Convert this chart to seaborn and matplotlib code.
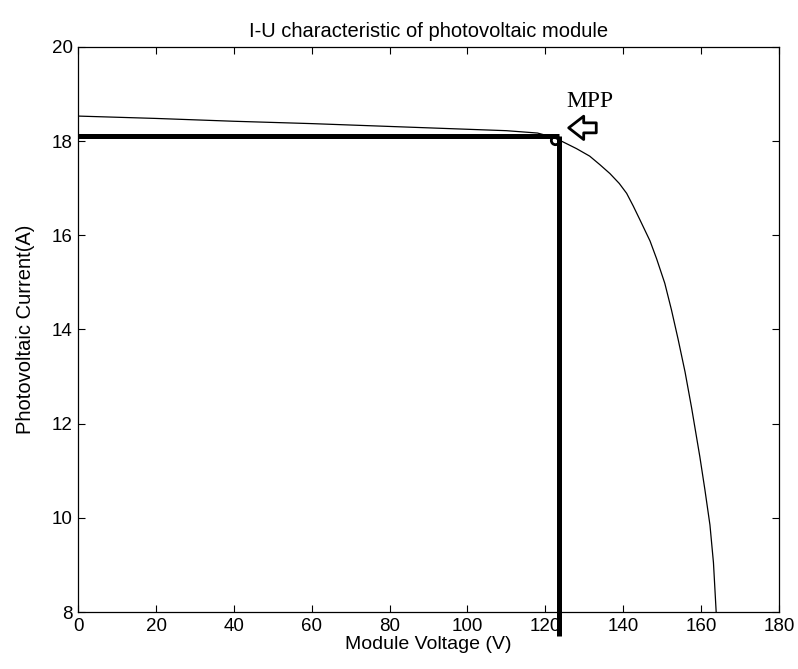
import matplotlib
matplotlib.use("Agg")
import matplotlib.pyplot as plt
import seaborn as sns
import pandas as pd

# I-U curve
voltage = [0, 20, 40, 60, 80, 100, 110, 118, 122, 124.6, 128, 131.4, 134,
           136.6, 139, 140.9, 142.6, 144.3, 146.9, 148.6, 150.7, 152.4,
           154.1, 155.9, 157.6, 159.7, 161, 162.3, 163.2, 163.9]
current = [18.53, 18.48, 18.42, 18.37, 18.31, 18.25, 18.22, 18.17, 18.08,
           17.98, 17.84, 17.68, 17.5, 17.31, 17.1, 16.89, 16.62, 16.33,
           15.88, 15.5, 14.98, 14.42, 13.8, 13.1, 12.33, 11.3, 10.6, 9.85,
           9.05, 8.0]

mpp_v = 123.4
mpp_i = 18.1

df = pd.DataFrame({"U": voltage, "I": current})

sns.set_theme(style="ticks")
plt.rcParams["font.family"] = ["Liberation Sans", "DejaVu Sans"]
plt.rcParams["text.color"] = "black"
plt.rcParams["axes.labelcolor"] = "black"

fig = plt.figure(figsize=(7.98, 6.69), dpi=100)
ax = fig.add_axes([0.098, 0.085, 0.878, 0.845])

sns.lineplot(data=df, x="U", y="I", ax=ax, color="black", linewidth=0.9,
             sort=False, estimator=None)

# MPP guide lines
ax.plot([0, mpp_v], [mpp_i, mpp_i], color="black", linewidth=3.6,
        solid_capstyle="butt")
ax.plot([mpp_v, mpp_v], [7.5, mpp_i], color="black", linewidth=3.6,
        solid_capstyle="butt", clip_on=False)
ax.plot([mpp_v - 1], [mpp_i - 0.08], marker="o", markersize=6,
        markerfacecolor="none", markeredgecolor="black", markeredgewidth=2)

ax.annotate("", xy=(125.3, 18.28), xytext=(133.8, 18.28),
            arrowprops=dict(arrowstyle="simple,head_width=1.4,head_length=0.9,tail_width=0.6",
                            fc="white", ec="black", lw=2, mutation_scale=12))
ax.text(131.5, 18.83, "MPP", family="Liberation Serif", fontsize=17,
        ha="center", va="center")

ax.set_xlim(0, 180)
ax.set_ylim(8, 20)
ax.set_xticks(range(0, 181, 20))
ax.set_yticks(range(8, 21, 2))
ax.tick_params(direction="in", top=True, right=True, length=5, width=0.8,
               labelsize=13.5, colors="black", pad=4)
for s in ax.spines.values():
    s.set_linewidth(0.9)
    s.set_color("black")

ax.set_title("I-U characteristic of photovoltaic module", fontsize=14.5, pad=7)
ax.set_xlabel("Module Voltage (V)", fontsize=14, labelpad=1)
ax.set_ylabel("Photovoltaic Current(A)", fontsize=14.5, labelpad=12)

plt.savefig("out.png", dpi=100)
